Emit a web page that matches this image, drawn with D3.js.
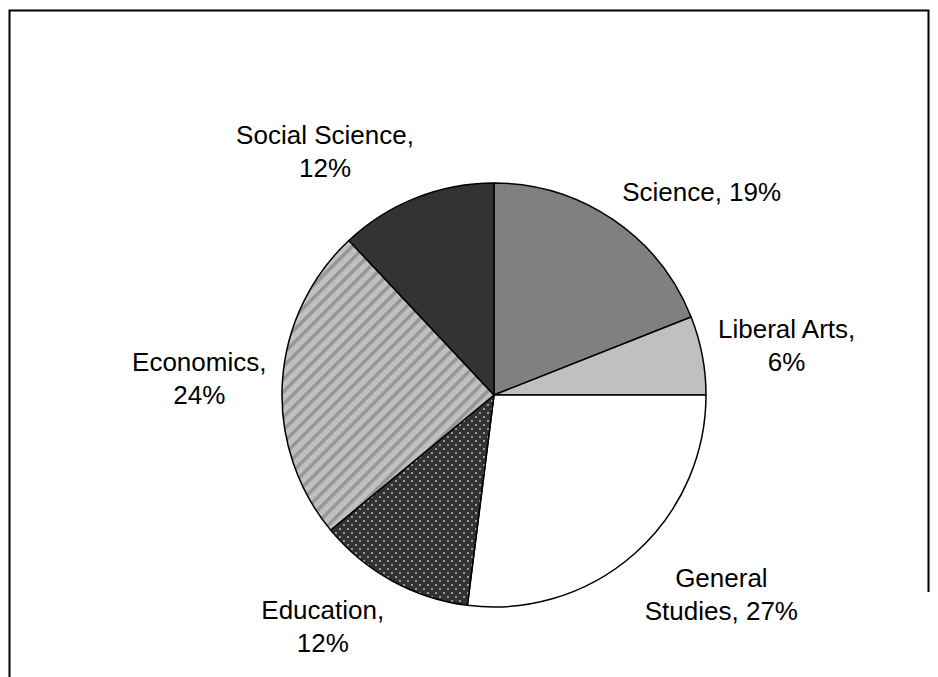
<!DOCTYPE html>
<html>
<head>
<meta charset="utf-8">
<script src="https://cdn.jsdelivr.net/npm/d3@7/dist/d3.min.js"></script>
<style>
  html, body { margin: 0; padding: 0; background: #fff; }
  svg { display: block; }
  text { font-family: "Liberation Sans", Arial, sans-serif; font-size: 26px; fill: #000; }
</style>
</head>
<body>
<svg id="chart" width="938" height="677"></svg>
<script>
// ---- data ----
const categories = ["Science", "Liberal Arts", "General Studies", "Education", "Economics", "Social Science"];
const values = [19, 6, 27, 12, 24, 12];
const labelLines = [
  ["Science, 19%"],
  ["Liberal Arts,", "6%"],
  ["General", "Studies, 27%"],
  ["Education,", "12%"],
  ["Economics,", "24%"],
  ["Social Science,", "12%"]
];
const fills = ["#808080", "#c0c0c0", "#ffffff", "url(#dots)", "url(#stripes)", "#333333"];

// ---- layout ----
const W = 938, H = 677;
const cx = 494, cy = 395, R = 212;
const svg = d3.select("#chart");

// patterns
const defs = svg.append("defs");
const dots = defs.append("pattern").attr("id", "dots").attr("patternUnits", "userSpaceOnUse")
  .attr("width", 8).attr("height", 8);
dots.append("rect").attr("width", 8).attr("height", 8).attr("fill", "#333333");
dots.append("rect").attr("x", 1).attr("y", 1).attr("width", 2).attr("height", 2).attr("fill", "#9a9a9a");
dots.append("rect").attr("x", 5).attr("y", 5).attr("width", 2).attr("height", 2).attr("fill", "#9a9a9a");

const stripes = defs.append("pattern").attr("id", "stripes").attr("patternUnits", "userSpaceOnUse")
  .attr("width", 9).attr("height", 9).attr("patternTransform", "rotate(45)");
stripes.append("rect").attr("width", 9).attr("height", 9).attr("fill", "#c0c0c0");
stripes.append("rect").attr("x", 0).attr("y", 0).attr("width", 3.5).attr("height", 9).attr("fill", "#969696");

// frame
svg.append("path")
  .attr("d", `M9.5,${H} V10.5 H928.5 V592`)
  .attr("fill", "none").attr("stroke", "#000").attr("stroke-width", 2);

// pie
const pie = d3.pie().sort(null).value(d => d)(values);
const arc = d3.arc().innerRadius(0).outerRadius(R);
const g = svg.append("g").attr("transform", `translate(${cx},${cy})`);
g.selectAll("path.slice").data(pie).join("path")
  .attr("class", "slice")
  .attr("d", arc)
  .attr("fill", (d, i) => fills[i])
  .attr("stroke", "#000")
  .attr("stroke-width", 1.5)
  .attr("stroke-linejoin", "round");

// labels
const clamp = v => Math.max(-1, Math.min(1, v));
pie.forEach((d, i) => {
  const mid = (d.startAngle + d.endAngle) / 2;
  const dx = Math.sin(mid), dy = -Math.cos(mid);
  const px = (R + 16) * dx, py = (R + 16) * dy;
  const t = g.append("text").attr("text-anchor", "middle");
  labelLines[i].forEach((line, j) => {
    t.append("tspan").attr("x", 0).attr("y", j * 33).text(line);
  });
  const bb = t.node().getBBox();
  const bcx = bb.x + bb.width / 2, bcy = bb.y + bb.height / 2;
  const tx = px + bb.width / 2 * clamp(2.6 * dx);
  const ty = py + bb.height / 2 * clamp(1.2 * dy);
  t.attr("transform", `translate(${tx - bcx},${ty - bcy})`);
});
</script>
</body>
</html>
